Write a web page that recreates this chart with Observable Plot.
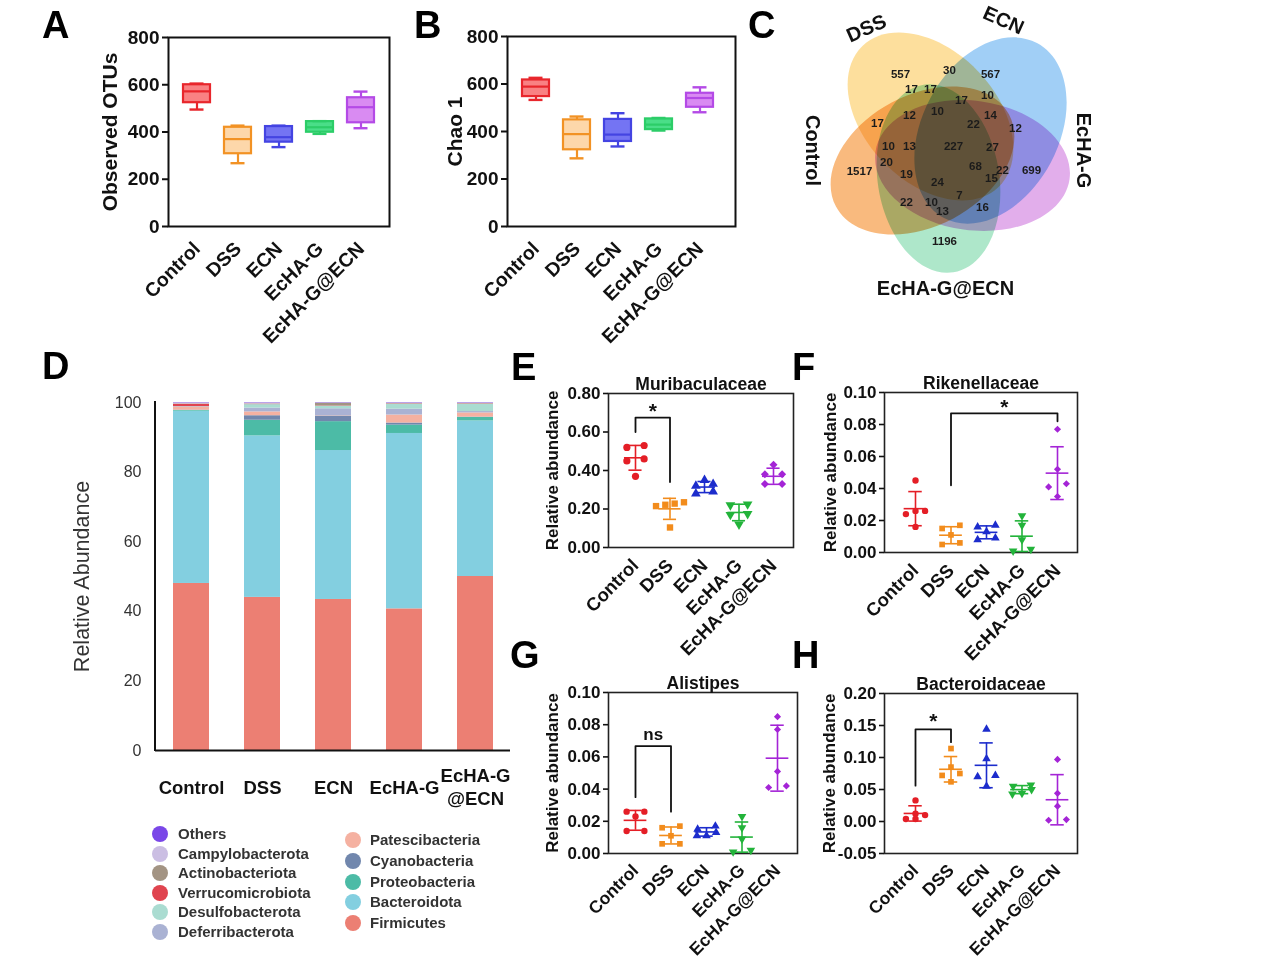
<!DOCTYPE html>
<html><head><meta charset="utf-8">
<script src="https://cdn.jsdelivr.net/npm/d3@7"></script>
<script src="https://cdn.jsdelivr.net/npm/@observablehq/plot@0.6"></script>
<style>
body{margin:0;background:#fff;}
#page{position:relative;width:1263px;height:960px;overflow:hidden;font-family:Arial,'Liberation Sans',Helvetica,sans-serif;background:#fff;}
.panel{position:absolute;}
.panel svg{overflow:visible;}
.letter{position:absolute;font-weight:bold;font-size:38px;line-height:1;color:#000;}
.leg{position:absolute;display:flex;align-items:center;font-weight:bold;font-size:15px;color:#333;white-space:nowrap;height:18px;line-height:18px;}
.leg .sw{display:inline-block;width:16px;height:16px;border-radius:50%;margin-right:10px;flex:none;}
</style></head><body><div id="page"></div>
<script>
const FONT = "Arial, 'Liberation Sans', Helvetica, sans-serif";
const groups = ["Control", "DSS", "ECN", "EcHA-G", "EcHA-G@ECN"];

// ---- A: Observed OTUs (box summaries)
const otuMin    = [495, 268, 336, 392, 416];
const otuQ1     = [524, 308, 357, 399, 439];
const otuMedian = [572, 370, 378, 420, 505];
const otuQ3     = [600, 420, 423, 444, 545];
const otuMax    = [605, 427, 427, 446, 571];

// ---- B: Chao 1 (box summaries)
const chaoMin    = [533, 287, 337, 404, 481];
const chaoQ1     = [547, 323, 358, 408, 502];
const chaoMedian = [589, 389, 387, 429, 541];
const chaoQ3     = [617, 449, 451, 453, 561];
const chaoMax    = [626, 463, 477, 457, 586];

// ---- C: Venn
const vennSets = ["EcHA-G@ECN", "Control", "DSS", "ECN", "EcHA-G"];
const vennCounts = [557, 30, 567, 17, 17, 17, 10, 12, 10, 22, 14, 12, 17, 10, 13, 227, 27, 20, 1517, 19, 68, 22, 15, 699, 24, 7, 22, 10, 13, 16, 1196];

// ---- D: phylum relative abundance (%), stacked bottom -> top
const phyla = ["Firmicutes", "Bacteroidota", "Proteobacteria", "Cyanobacteria", "Patescibacteria", "Deferribacterota", "Desulfobacterota", "Verrucomicrobiota", "Actinobacteriota", "Campylobacterota", "Others"];
const firmicutes        = [48.0, 44.0, 43.4, 40.7, 50.0];
const bacteroidota      = [49.5, 46.4, 42.8, 50.4, 44.7];
const proteobacteria    = [0.2, 4.5, 8.3, 2.4, 1.0];
const cyanobacteria     = [0.1, 1.3, 1.6, 0.6, 0.1];
const patescibacteria   = [0.8, 1.1, 0.1, 2.3, 1.2];
const deferribacterota  = [0.1, 1.1, 2.0, 1.7, 0.4];
const desulfobacterota  = [0.1, 1.0, 0.7, 1.4, 2.1];
const verrucomicrobiota = [0.7, 0.1, 0.1, 0.1, 0.1];
const actinobacteriota  = [0.1, 0.1, 0.8, 0.1, 0.1];
const campylobacterota  = [0.3, 0.3, 0.1, 0.2, 0.2];
const others            = [0.1, 0.1, 0.1, 0.1, 0.1];

// ---- E-H: relative abundance per mouse
const muribaculaceae = [[0.52, 0.53, 0.46, 0.45, 0.37], [0.235, 0.228, 0.215, 0.222, 0.104], [0.35, 0.33, 0.32, 0.29, 0.28], [0.225, 0.22, 0.175, 0.17, 0.12], [0.43, 0.38, 0.38, 0.33, 0.33]];
const rikenellaceae  = [[0.045, 0.026, 0.026, 0.024, 0.016], [0.017, 0.015, 0.011, 0.006, 0.005], [0.017, 0.016, 0.013, 0.009, 0.008], [0.023, 0.017, 0.008, 0.002, 0.001], [0.077, 0.052, 0.043, 0.041, 0.035]];
const alistipes      = [[0.026, 0.026, 0.023, 0.014, 0.014], [0.017, 0.016, 0.011, 0.006, 0.006], [0.017, 0.015, 0.013, 0.011, 0.011], [0.023, 0.016, 0.009, 0.002, 0.001], [0.085, 0.077, 0.051, 0.042, 0.041]];
const bacteroidaceae = [[0.033, 0.012, 0.010, 0.004, 0.004], [0.114, 0.085, 0.075, 0.072, 0.062], [0.144, 0.098, 0.072, 0.070, 0.055], [0.057, 0.055, 0.050, 0.044, 0.043], [0.097, 0.044, 0.024, 0.003, 0.002]];

// ---- styles
const boxStroke = ["#e8262c", "#f29224", "#4444e2", "#2ccd68", "#b44ae6"];
const boxFill   = ["#f98183", "#fdd7aa", "#7474f3", "#4ade88", "#d98bf2"];
const dotColors = ["#e41e26", "#f28c1c", "#1c2ccc", "#22b33a", "#a424d6"];
const dotSymbols = ["circle", "square", "triangle", "triangle", "diamond2"];
const phylaColors = ["#ec7f73", "#83cfe0", "#4cbba6", "#7187ad", "#f5b1a1", "#aab2d3", "#aadcd1", "#e0444f", "#a39483", "#cbbee3", "#7a47e8"];
const vennFills = ["#9ce2be", "#f8ab62", "#fcd888", "#8cc5f4", "#dc9ce6"];

const page = document.getElementById("page");
function place(node, left, top) {
  const d = document.createElement("div");
  d.className = "panel"; d.style.left = left + "px"; d.style.top = top + "px";
  d.appendChild(node); page.appendChild(d);
}

// ---------- box panels
function boxPanel(o) {
  const rows = groups.map((g, i) => ({i, g, min: o.mins[i], q1: o.q1s[i], med: o.meds[i], q3: o.q3s[i], max: o.maxs[i]}));
  const left = o.x0 - 95, top = o.y0 - 20;
  const W = o.x1 - left + 12, H = o.y1 - top + 135;
  const hw = 13.5 / o.step, cw = 7 / o.step;
  const sc = d => boxStroke[d.i], fc = d => boxFill[d.i];
  const plot = Plot.plot({
    width: W, height: H,
    marginLeft: o.x0 - left, marginTop: o.y0 - top, marginRight: W - (o.x1 - left), marginBottom: H - (o.y1 - top),
    style: {fontFamily: FONT, color: "#111", background: "transparent"},
    x: {domain: [-o.first / o.step, (o.x1 - o.x0 - o.first) / o.step]},
    y: {domain: [0, 800]},
    marks: [
      Plot.ruleX(rows, {x: "i", y1: "min", y2: "max", stroke: sc, strokeWidth: 2.2}),
      Plot.rectY(rows, {x1: d => d.i - hw, x2: d => d.i + hw, y1: "q1", y2: "q3", fill: fc, stroke: sc, strokeWidth: 2.2}),
      Plot.ruleY(rows, {x1: d => d.i - hw, x2: d => d.i + hw, y: "med", stroke: sc, strokeWidth: 2.2}),
      Plot.ruleY(rows, {x1: d => d.i - cw, x2: d => d.i + cw, y: "min", stroke: sc, strokeWidth: 2.4}),
      Plot.ruleY(rows, {x1: d => d.i - cw, x2: d => d.i + cw, y: "max", stroke: sc, strokeWidth: 2.4}),
      Plot.frame({stroke: "#111", strokeWidth: 2}),
      Plot.axisY({ticks: [0, 200, 400, 600, 800], tickSize: 6, tickPadding: 3, fontSize: 19, fontWeight: "bold", label: null, strokeWidth: 2}),
      Plot.axisX({ticks: [0, 1, 2, 3, 4], tickFormat: i => groups[i], tickRotate: -45, tickSize: 0, tickPadding: 19, fontSize: 19.5, fontWeight: "bold", label: null}),
      Plot.text([o.label], {frameAnchor: "left", textAnchor: "middle", dx: o.labelDx, rotate: -90, fontSize: 21, fontWeight: "bold"})
    ]
  });
  place(plot, left, top);
}
boxPanel({mins: otuMin, q1s: otuQ1, meds: otuMedian, q3s: otuQ3, maxs: otuMax, label: "Observed OTUs", x0: 168, x1: 389, y0: 37, y1: 226, first: 28.5, step: 41, labelDx: -58});
boxPanel({mins: chaoMin, q1s: chaoQ1, meds: chaoMedian, q3s: chaoQ3, maxs: chaoMax, label: "Chao 1", x0: 507, x1: 735, y0: 36, y1: 226, first: 28.5, step: 41, labelDx: -52});

// ---------- Venn (C)
(function () {
  const ellipse = ratio => ({
    draw(ctx, size) {
      const rx = Math.sqrt(size / Math.PI), ry = rx * ratio, k = 0.5523;
      ctx.moveTo(rx, 0);
      ctx.bezierCurveTo(rx, ry * k, rx * k, ry, 0, ry);
      ctx.bezierCurveTo(-rx * k, ry, -rx, ry * k, -rx, 0);
      ctx.bezierCurveTo(-rx, -ry * k, -rx * k, -ry, 0, -ry);
      ctx.bezierCurveTo(rx * k, -ry, rx, -ry * k, rx, 0);
      ctx.closePath();
    }
  });
  // ellipse layout (centre offset, axis angle, semi-major, axis ratio) in pixels around the diagram centre
  const ellLayout = [[-10, 26, 81, 95, 0.64], [-26, 8, 152, 98, 0.67], [-18, -36, 226, 98, 0.67], [42, -22, 298, 99, 0.69], [24, 13, 8, 98, 0.66]];
  const ell = vennSets.map((name, k) => ({name, k, x: ellLayout[k][0], y: ellLayout[k][1], angle: ellLayout[k][2], r: ellLayout[k][3], ratio: ellLayout[k][4]}));
  const labelOffsets = [[-48,-78],[1,-82],[42,-78],[-37,-63],[-18,-63],[13,-52],[39,-57],[-39,-37],[-11,-41],[25,-28],[42,-37],[67,-24],[-71,-29],[-60,-6],[-39,-6],[5,-6],[44,-5],[-62,10],[-89,19],[-42,22],[27,14],[54,18],[43,26],[83,18],[-11,30],[11,43],[-42,50],[-17,50],[-6,59],[34,55],[-4,89]];
  const counts = vennCounts.map((n, i) => ({n: String(n), x: labelOffsets[i][0], y: labelOffsets[i][1]}));
  const nameLayout = [[-3, 136, 0], [-136, -2, 90], [-82, -124, -24], [55, -132, 24], [135, -2, 90]];
  const names = vennSets.map((s, k) => ({s, x: nameLayout[k][0], y: nameLayout[k][1], rot: nameLayout[k][2]}));
  const plot = Plot.plot({
    width: 330, height: 310, margin: 0,
    style: {fontFamily: FONT, color: "#111", background: "transparent"},
    x: {domain: [-178, 152], range: [0, 330], axis: null},
    y: {domain: [-152, 158], range: [0, 310], axis: null},
    marks: [
      ...ell.map(e => Plot.dot([e], {x: "x", y: "y", r: e.r, symbol: ellipse(e.ratio), rotate: e.angle, fill: vennFills[e.k], fillOpacity: 0.82, mixBlendMode: "multiply"})),
      Plot.text(counts, {x: "x", y: "y", text: "n", fontSize: 11.5, fontWeight: "bold", fill: "#1b1b1b"}),
      Plot.text(names, {x: "x", y: "y", text: "s", rotate: "rot", fontSize: 20, fontWeight: "bold"})
    ]
  });
  place(plot, 770, 0);
})();

// ---------- D stacked bars
(function () {
  const series = [firmicutes, bacteroidota, proteobacteria, cyanobacteria, patescibacteria, deferribacterota, desulfobacterota, verrucomicrobiota, actinobacteriota, campylobacterota, others];
  const rows = [];
  groups.forEach((g, i) => phyla.forEach((p, k) => rows.push({group: g, phylum: p, value: series[k][i]})));
  const x0 = 155, x1 = 510, y0 = 402, y1 = 750, left = 55, top = 380;
  const W = 480, H = 450;
  const leftLine = (index, scales, values, dims) =>
    d3.create("svg:line").attr("x1", dims.marginLeft).attr("x2", dims.marginLeft)
      .attr("y1", dims.marginTop - 1).attr("y2", dims.height - dims.marginBottom + 1)
      .attr("stroke", "#111").attr("stroke-width", 2).node();
  const plot = Plot.plot({
    width: W, height: H,
    marginLeft: x0 - left, marginTop: y0 - top, marginRight: W - (x1 - left), marginBottom: H - (y1 - top),
    style: {fontFamily: FONT, color: "#111", background: "transparent"},
    x: {domain: groups, paddingInner: 0.5, paddingOuter: 0.25, axis: null},
    y: {domain: [0, 100]},
    color: {domain: phyla, range: phylaColors},
    marks: [
      Plot.barY(rows, {x: "group", y: "value", fill: "phylum", order: phyla}),
      Plot.ruleY([0], {stroke: "#111", strokeWidth: 2}),
      leftLine,
      Plot.axisY({ticks: [0, 20, 40, 60, 80, 100], tickSize: 0, tickPadding: 14, fontSize: 16, fill: "#333", label: null}),
      Plot.text(groups, {x: d => d, text: d => d === "EcHA-G@ECN" ? "EcHA-G\n@ECN" : d, frameAnchor: "bottom", dy: 36, lineAnchor: "middle", fontSize: 18.5, fontWeight: "bold", lineHeight: 1.25}),
      Plot.text(["Relative Abundance"], {frameAnchor: "left", textAnchor: "middle", dx: -73, rotate: -90, fontSize: 21.5, fill: "#333"})
    ]
  });
  place(plot, left, top);
  // legend (reverse stack order, two columns)
  const legendOrder = phyla.slice().reverse();
  legendOrder.forEach((p, k) => {
    const col = k < 6 ? 0 : 1, row = k < 6 ? k : k - 6;
    const cy = col === 0 ? 834 + row * 19.6 : 840 + row * 20.75;
    const d = document.createElement("div");
    d.className = "leg";
    d.style.left = (col === 0 ? 152 : 345) + "px";
    d.style.top = (cy - 9) + "px";
    const sw = document.createElement("span");
    sw.className = "sw"; sw.style.background = phylaColors[phyla.indexOf(p)];
    if (col === 1) sw.style.marginRight = "9px";
    d.appendChild(sw); d.appendChild(document.createTextNode(p));
    page.appendChild(d);
  });
})();

// ---------- E-H scatter panels
function spread(vals, thr) {
  const order = d3.range(vals.length).sort((a, b) => vals[a] - vals[b]);
  const off = vals.map(() => 0);
  let cl = [];
  const flush = () => { const n = cl.length, st = n > 2 ? 0.27 : 0.5; cl.forEach((k, j) => off[k] = (j - (n - 1) / 2) * st); };
  for (const k of order) { if (cl.length && vals[k] - vals[cl[0]] >= thr) { flush(); cl = []; } cl.push(k); }
  flush();
  return off;
}
function scatterPanel(o) {
  const left = o.x0 - 100, top = o.y0 - 42;
  const W = o.x1 + 14 - left, H = o.y1 + 130 - top;
  const span = o.yDomain[1] - o.yDomain[0], thr = span / (o.y1 - o.y0) * 4.5;
  const pts = [];
  o.values.forEach((vals, i) => { const off = spread(vals, thr); vals.forEach((v, j) => pts.push({group: groups[i], i, v, x: i + off[j]})); });
  const stats = o.values.map((vals, i) => ({group: groups[i], i, m: d3.mean(vals), s: d3.deviation(vals)}));
  const b = o.bracket;
  const br = [{x: b.a, y: b.ya}, {x: b.a, y: b.top}, {x: b.b, y: b.top}, {x: b.b, y: b.yb}];
  const plot = Plot.plot({
    width: W, height: H,
    marginLeft: o.x0 - left, marginTop: o.y0 - top, marginRight: W - (o.x1 - left), marginBottom: H - (o.y1 - top),
    style: {fontFamily: FONT, color: "#111", background: "transparent"},
    x: {domain: [-o.first / o.step, (o.x1 - o.x0 - o.first) / o.step]},
    y: {domain: o.yDomain},
    color: {domain: groups, range: dotColors},
    symbol: {domain: groups, range: dotSymbols},
    marks: [
      Plot.frame({stroke: "#222", strokeWidth: 1.6}),
      Plot.line(br, {x: "x", y: "y", stroke: "#111", strokeWidth: 1.8}),
      Plot.text([b], {x: d => (d.a + d.b) / 2, y: "ly", text: "label", fontSize: b.label === "ns" ? 17 : 21, fontWeight: "bold", lineAnchor: "middle"}),
      Plot.ruleX(stats, {x: "i", y1: d => d.m - d.s, y2: d => d.m + d.s, stroke: "group", strokeWidth: 1.6}),
      Plot.ruleY(stats, {x1: d => d.i - 0.32, x2: d => d.i + 0.32, y: "m", stroke: "group", strokeWidth: 1.6}),
      Plot.ruleY(stats, {x1: d => d.i - 0.19, x2: d => d.i + 0.19, y: d => d.m - d.s, stroke: "group", strokeWidth: 1.6}),
      Plot.ruleY(stats, {x1: d => d.i - 0.19, x2: d => d.i + 0.19, y: d => d.m + d.s, stroke: "group", strokeWidth: 1.6}),
      Plot.dot(pts, {x: "x", y: "v", symbol: "group", fill: "group", r: o.r, rotate: d => d.i === 3 ? 180 : 0}),
      Plot.axisY({ticks: o.yTicks, tickFormat: d => d.toFixed(2), tickSize: 5, tickPadding: 3, fontSize: 17, fontWeight: "bold", label: null, strokeWidth: 1.6}),
      Plot.axisX({ticks: [0, 1, 2, 3, 4], tickFormat: i => groups[i], tickRotate: -45, tickSize: 0, tickPadding: o.xPad, fontSize: o.xFont, fontWeight: "bold", label: null}),
      Plot.text([o.title], {frameAnchor: "top", dy: -16, fontSize: 17.5, fontWeight: "bold"}),
      Plot.text(["Relative abundance"], {frameAnchor: "left", textAnchor: "middle", dx: o.labelDx, rotate: -90, fontSize: 17, fontWeight: "bold"})
    ]
  });
  place(plot, left, top);
}
scatterPanel({values: muribaculaceae, title: "Muribaculaceae", yDomain: [0, 0.8], yTicks: [0, 0.2, 0.4, 0.6, 0.8],
  x0: 608, x1: 793, y0: 393, y1: 547, first: 27, step: 34.5, labelDx: -56, r: 3.6, xFont: 18.5, xPad: 15,
  bracket: {a: 0, b: 1, ya: 0.6, yb: 0.34, top: 0.675, ly: 0.71, label: "*"}});
scatterPanel({values: rikenellaceae, title: "Rikenellaceae", yDomain: [0, 0.1], yTicks: [0, 0.02, 0.04, 0.06, 0.08, 0.1],
  x0: 884, x1: 1077, y0: 392, y1: 552, first: 31, step: 35.5, labelDx: -54, r: 3.2, xFont: 18.5, xPad: 15,
  bracket: {a: 1, b: 4, ya: 0.042, yb: 0.082, top: 0.087, ly: 0.0905, label: "*"}});
scatterPanel({values: alistipes, title: "Alistipes", yDomain: [0, 0.1], yTicks: [0, 0.02, 0.04, 0.06, 0.08, 0.1],
  x0: 608, x1: 797, y0: 692, y1: 853, first: 27, step: 35.5, labelDx: -56, r: 3.2, xFont: 17.5, xPad: 14,
  bracket: {a: 0, b: 1, ya: 0.035, yb: 0.026, top: 0.0667, ly: 0.074, label: "ns"}});
scatterPanel({values: bacteroidaceae, title: "Bacteroidaceae", yDomain: [-0.05, 0.2], yTicks: [-0.05, 0, 0.05, 0.1, 0.15, 0.2],
  x0: 884, x1: 1077, y0: 693, y1: 853, first: 31, step: 35.5, labelDx: -55, r: 3.2, xFont: 17.5, xPad: 14,
  bracket: {a: 0, b: 1, ya: 0.056, yb: 0.124, top: 0.144, ly: 0.157, label: "*"}});

// ---------- panel letters
[["A", 42, 6], ["B", 414, 6], ["C", 748, 6], ["D", 42, 347], ["E", 511, 348], ["F", 792, 348], ["G", 510, 636], ["H", 792, 636]].forEach(([t, x, y]) => {
  const d = document.createElement("div");
  d.className = "letter"; d.textContent = t; d.style.left = x + "px"; d.style.top = y + "px";
  page.appendChild(d);
});
</script></body></html>
